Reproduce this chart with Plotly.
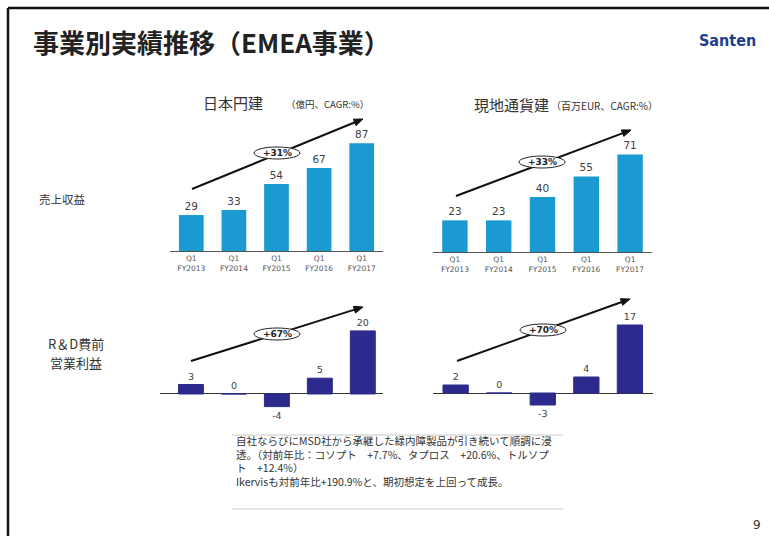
import math
import plotly.graph_objects as go

W, H = 769, 536

categories = ["Q1<br>FY2013", "Q1<br>FY2014", "Q1<br>FY2015", "Q1<br>FY2016", "Q1<br>FY2017"]
sales_jpy = [29, 33, 54, 67, 87]
sales_eur = [23, 23, 40, 55, 71]
profit_jpy = [3, 0, -4, 5, 20]
profit_eur = [2, 0, -3, 4, 17]
cagr_labels = ["+31%", "+33%", "+67%", "+70%"]

TOP_COLOR = "#1a9ad0"
BOT_COLOR = "#2c2a8c"
CJK = "Noto Sans CJK JP"
NUM = "DejaVu Sans"


def px(x):
    return x / W


def py(y):
    return 1 - y / H


fig = go.Figure()

panels = [
    dict(vals=sales_jpy, color=TOP_COLOR, xd=(170, 383), xr=(-0.5, 4.5), yd=(251, 131), yr=(0, 96.8), top=True),
    dict(vals=sales_eur, color=TOP_COLOR, xd=(433, 652), xr=(-0.5, 4.5), yd=(252, 131), yr=(0, 88), top=True),
    dict(vals=profit_jpy, color=BOT_COLOR, xd=(160, 383), xr=(-0.72, 4.47), yd=(420, 300), yr=(-8.25, 29.8), top=False),
    dict(vals=profit_eur, color=BOT_COLOR, xd=(433, 653), xr=(-0.52, 4.53), yd=(420, 300), yr=(-6.75, 23.25), top=False),
]

for i, p in enumerate(panels):
    n = i + 1
    xa = "x" if n == 1 else f"x{n}"
    ya = "y" if n == 1 else f"y{n}"
    fig.add_trace(go.Bar(
        x=list(range(5)), y=p["vals"], xaxis=xa, yaxis=ya,
        width=0.58,
        marker=dict(color=p["color"], line=dict(color=p["color"], width=1 if not p["top"] else 0)),
        text=[str(v) for v in p["vals"]], textposition="outside",
        textfont=dict(family=NUM, size=10.5 if p["top"] else 9.5, color="#404040"),
        cliponaxis=False, showlegend=False, hoverinfo="skip",
    ))
    xkey = "xaxis" if n == 1 else f"xaxis{n}"
    ykey = "yaxis" if n == 1 else f"yaxis{n}"
    fig.layout[xkey] = dict(
        domain=[px(p["xd"][0]), px(p["xd"][1])], range=list(p["xr"]), anchor=ya,
        tickmode="array", tickvals=list(range(5)), ticktext=categories,
        showticklabels=p["top"], ticks="", showgrid=False, zeroline=False,
        showline=p["top"], linecolor="#555555", linewidth=1,
        tickfont=dict(family=NUM, size=7.5, color="#555555"), fixedrange=True,
    )
    fig.layout[ykey] = dict(
        domain=[py(p["yd"][0]), py(p["yd"][1])], range=list(p["yr"]), anchor=xa,
        showticklabels=False, showgrid=False, ticks="",
        zeroline=not p["top"], zerolinecolor="#333333", zerolinewidth=1,
        showline=False, fixedrange=True,
    )

annotations = []
shapes = []

# slide border (top and left)
shapes.append(dict(type="line", xref="paper", yref="paper", x0=px(8), x1=1.0, y0=py(8), y1=py(8),
                   line=dict(color="#111111", width=2.5)))
shapes.append(dict(type="line", xref="paper", yref="paper", x0=px(8), x1=px(8), y0=py(8), y1=0,
                   line=dict(color="#111111", width=2.5)))

# title
annotations.append(dict(text="<b>事業別実績推移（EMEA事業）</b>", x=px(31), y=py(41), xref="paper", yref="paper",
                        xanchor="left", yanchor="middle", showarrow=False,
                        font=dict(family=CJK, size=26, color="#222222")))
# logo text
annotations.append(dict(text="<b>Santen</b>", x=px(758), y=py(40), xref="paper", yref="paper",
                        xanchor="right", yanchor="middle", showarrow=False,
                        font=dict(family="DejaVu Sans Condensed", size=16, color="#1d3f8c")))

# panel headings
annotations.append(dict(text="日本円建", x=px(233), y=py(103), xref="paper", yref="paper",
                        xanchor="center", yanchor="middle", showarrow=False,
                        font=dict(family=CJK, size=15, color="#333333")))
annotations.append(dict(text="（億円、CAGR:%）", x=px(284), y=py(104), xref="paper", yref="paper",
                        xanchor="left", yanchor="middle", showarrow=False,
                        font=dict(family=CJK, size=9.5, color="#333333")))
annotations.append(dict(text="現地通貨建", x=px(511), y=py(104), xref="paper", yref="paper",
                        xanchor="center", yanchor="middle", showarrow=False,
                        font=dict(family=CJK, size=15, color="#333333")))
annotations.append(dict(text="（百万EUR、CAGR:%）", x=px(549), y=py(105), xref="paper", yref="paper",
                        xanchor="left", yanchor="middle", showarrow=False,
                        font=dict(family=CJK, size=10, color="#333333")))

# row labels
annotations.append(dict(text="売上収益", x=px(62), y=py(199), xref="paper", yref="paper",
                        xanchor="center", yanchor="middle", showarrow=False,
                        font=dict(family=CJK, size=11.5, color="#333333")))
for txt, yy in (("R＆D費前", 343), ("営業利益", 362)):
    annotations.append(dict(text=txt, x=px(76), y=py(yy), xref="paper", yref="paper",
                            xanchor="center", yanchor="middle", showarrow=False,
                            font=dict(family=CJK, size=13, color="#333333")))

# trend arrows (start -> end in pixels) and CAGR ellipses
arrows = [((192, 189), (363, 119), (277, 153)),
          ((456, 196), (631, 130), (542, 162)),
          ((191, 361), (363, 307), (277, 334)),
          ((457, 361), (630, 299), (543, 330))]
HEAD_L, HEAD_W = 9, 3.5
for (s, e, c), lab in zip(arrows, cagr_labels):
    dx, dy = e[0] - s[0], e[1] - s[1]
    L = math.hypot(dx, dy)
    ux, uy = dx / L, dy / L
    bx, by = e[0] - ux * HEAD_L, e[1] - uy * HEAD_L
    shapes.append(dict(type="line", xref="paper", yref="paper",
                       x0=px(s[0]), y0=py(s[1]), x1=px(bx + ux), y1=py(by + uy),
                       line=dict(color="#111111", width=2)))
    p1 = (bx - uy * HEAD_W, by + ux * HEAD_W)
    p2 = (bx + uy * HEAD_W, by - ux * HEAD_W)
    path = (f"M {px(e[0])},{py(e[1])} L {px(p1[0])},{py(p1[1])} "
            f"L {px(p2[0])},{py(p2[1])} Z")
    shapes.append(dict(type="path", xref="paper", yref="paper", path=path,
                       fillcolor="#111111", line=dict(color="#111111", width=1)))
    shapes.append(dict(type="circle", xref="paper", yref="paper",
                       x0=px(c[0] - 23), x1=px(c[0] + 23), y0=py(c[1] + 6), y1=py(c[1] - 6),
                       fillcolor="white", line=dict(color="#222222", width=1)))
    annotations.append(dict(text=f"<b>{lab}</b>", x=px(c[0]), y=py(c[1]), xref="paper", yref="paper",
                            xanchor="center", yanchor="middle", showarrow=False,
                            font=dict(family=NUM, size=9, color="#222222")))

# comment box
shapes.append(dict(type="line", xref="paper", yref="paper", x0=px(232), x1=px(563), y0=py(435), y1=py(435),
                   line=dict(color="#c8c8c8", width=1)))
shapes.append(dict(type="line", xref="paper", yref="paper", x0=px(232), x1=px(563), y0=py(509), y1=py(509),
                   line=dict(color="#c8c8c8", width=1)))
comment_lines = [
    "自社ならびにMSD社から承継した緑内障製品が引き続いて順調に浸",
    "透。（対前年比：コソプト　+7.7%、タプロス　+20.6%、トルソプ",
    "ト　+12.4%）",
    "Ikervisも対前年比+190.9%と、期初想定を上回って成長。",
]
annotations.append(dict(text="<br>".join(comment_lines), x=px(234), y=py(461), xref="paper", yref="paper",
                        xanchor="left", yanchor="middle", align="left", showarrow=False,
                        font=dict(family=CJK, size=10.5, color="#333333")))

# page number
annotations.append(dict(text="9", x=px(763), y=py(525), xref="paper", yref="paper",
                        xanchor="right", yanchor="middle", showarrow=False,
                        font=dict(family=NUM, size=12, color="#333333")))

fig.update_layout(
    width=W, height=H, margin=dict(l=0, r=0, t=0, b=0),
    paper_bgcolor="white", plot_bgcolor="white",
    annotations=annotations, shapes=shapes,
    font=dict(family=CJK),
)

fig.write_html("out.html", config={"displayModeBar": False})
